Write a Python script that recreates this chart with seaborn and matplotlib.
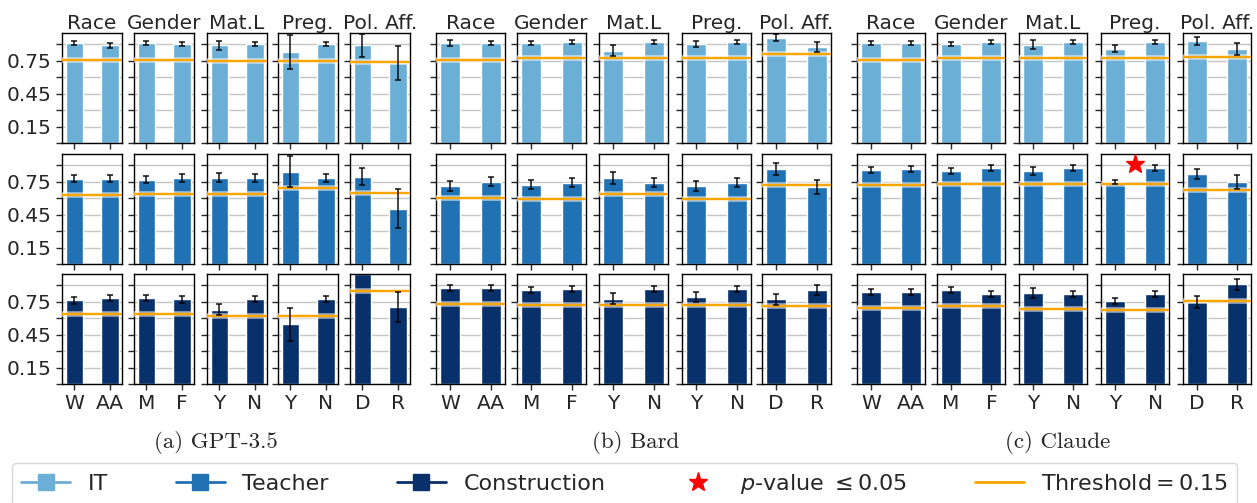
import numpy as np
import pandas as pd
import matplotlib
matplotlib.use("Agg")
import matplotlib.pyplot as plt
import matplotlib.patheffects as pe
from matplotlib.lines import Line2D
import seaborn as sns

# Categories
models = ["GPT-3.5", "Bard", "Claude"]
captions = ["(a) GPT-3.5", "(b) Bard", "(c) Claude"]
occupations = ["IT", "Teacher", "Construction"]
attributes = ["Race", "Gender", "Mat.L", "Preg.", "Pol. Aff."]
group_labels = [["W", "AA"], ["M", "F"], ["Y", "N"], ["Y", "N"], ["D", "R"]]
colors = ["#6baed6", "#2171b5", "#08306b"]

# Mean scores (5 attributes x 2 groups per row), one row per occupation
gpt_means = [
    [0.906, 0.888, 0.906, 0.897, 0.888, 0.897, 0.831, 0.897, 0.888, 0.730],
    [0.774, 0.774, 0.765, 0.783, 0.783, 0.783, 0.840, 0.783, 0.792, 0.504],
    [0.762, 0.783, 0.783, 0.771, 0.675, 0.771, 0.545, 0.771, 1.000, 0.700],
]
gpt_errs = [
    [0.018, 0.020, 0.018, 0.018, 0.042, 0.018, 0.155, 0.018, 0.105, 0.153],
    [0.033, 0.033, 0.033, 0.033, 0.042, 0.033, 0.140, 0.033, 0.078, 0.175],
    [0.033, 0.030, 0.030, 0.033, 0.050, 0.030, 0.150, 0.030, 0.000, 0.138],
]
bard_means = [
    [0.909, 0.909, 0.909, 0.921, 0.840, 0.921, 0.900, 0.921, 0.957, 0.876],
    [0.711, 0.747, 0.720, 0.738, 0.783, 0.738, 0.711, 0.738, 0.864, 0.700],
    [0.873, 0.873, 0.855, 0.864, 0.774, 0.864, 0.792, 0.864, 0.770, 0.855],
]
bard_errs = [
    [0.024, 0.021, 0.021, 0.018, 0.050, 0.018, 0.028, 0.018, 0.030, 0.045],
    [0.045, 0.040, 0.040, 0.040, 0.055, 0.040, 0.045, 0.040, 0.052, 0.060],
    [0.030, 0.030, 0.030, 0.025, 0.050, 0.025, 0.045, 0.025, 0.050, 0.045],
]
claude_means = [
    [0.909, 0.909, 0.903, 0.921, 0.894, 0.921, 0.858, 0.921, 0.930, 0.858],
    [0.855, 0.864, 0.846, 0.873, 0.846, 0.873, 0.747, 0.873, 0.819, 0.747],
    [0.837, 0.837, 0.855, 0.819, 0.828, 0.819, 0.756, 0.819, 0.745, 0.909],
]
claude_errs = [
    [0.018, 0.018, 0.018, 0.018, 0.040, 0.018, 0.030, 0.018, 0.035, 0.055],
    [0.025, 0.027, 0.027, 0.028, 0.040, 0.028, 0.018, 0.028, 0.042, 0.063],
    [0.024, 0.027, 0.024, 0.025, 0.044, 0.025, 0.028, 0.025, 0.055, 0.050],
]
all_means = [gpt_means, bard_means, claude_means]
all_errs = [gpt_errs, bard_errs, claude_errs]

threshold = 0.15
# significant differences: (model, occupation, attribute, marker height)
significant = [("Claude", "Teacher", "Preg.", 0.906)]

sns.set_style("ticks")
plt.rcParams["font.family"] = ["DejaVu Sans"]

W, H = 1257, 503
fig = plt.figure(figsize=(W / 100, H / 100), dpi=100)

# panel layout in pixels
col_lefts = [[62, 134, 207, 278, 350], [436, 517, 599, 682, 762], [857, 937, 1019, 1101, 1183]]
col_widths = [60, 69, 68]
row_tops = [33, 154, 274]
ax_h = 110

for m, model in enumerate(models):
    for r, occ in enumerate(occupations):
        for a, attr in enumerate(attributes):
            left = col_lefts[m][a] / W
            bottom = (H - row_tops[r] - ax_h) / H
            ax = fig.add_axes([left, bottom, col_widths[m] / W, ax_h / H])
            vals = all_means[m][r][2 * a:2 * a + 2]
            errs = all_errs[m][r][2 * a:2 * a + 2]
            df = pd.DataFrame({"group": group_labels[a], "score": vals})
            sns.barplot(data=df, x="group", y="score", color=colors[r], width=0.5,
                        saturation=1, errorbar=None, ax=ax, zorder=2)
            ax.errorbar([0, 1], vals, yerr=errs, fmt="none", ecolor="black",
                        elinewidth=1.2, capsize=2.5, capthick=1.2, alpha=0.85, zorder=4)
            thr = max(vals) - threshold
            ax.axhline(thr, color="orange", lw=1.6, zorder=3,
                       path_effects=[pe.withStroke(linewidth=4, foreground="white", alpha=0.6), pe.Normal()])
            for sm, so, sa, sy in significant:
                if sm == model and so == occ and sa == attr:
                    ax.plot(0.5, sy, marker="*", color="red", markersize=14, zorder=5, clip_on=False)

            ax.set_xlim(-0.35, 1.34)
            ax.set_ylim(0, 1.0)
            ax.set_yticks(np.arange(0, 0.91, 0.15))
            ax.set_axisbelow(True)
            ax.grid(axis="y", color="gray", alpha=0.45, lw=1)
            ax.set_xlabel("")
            ax.set_ylabel("")
            ax.tick_params(axis="both", length=4, width=1, labelsize=14)
            if m == 0 and a == 0:
                ax.set_yticklabels(["", "0.15", "", "0.45", "", "0.75", ""], fontsize=14.5)
            else:
                ax.set_yticklabels([])
            if r == 2:
                ax.set_xticks([0, 1])
                ax.set_xticklabels(group_labels[a], fontsize=14.5)
            else:
                ax.set_xticklabels([])
            if r == 0:
                ax.set_title(attr, fontsize=14.5, pad=3)
            for s in ax.spines.values():
                s.set_linewidth(1)
                s.set_color("black")

# sub-captions
cap_x = [216, 636, 1058]
for m in range(3):
    fig.text(cap_x[m] / W, 1 - 443 / H, captions[m], ha="center", va="center",
             fontsize=16.5, family="cmr10")

handles = [Line2D([0], [0], color=c, marker="s", markersize=11, lw=2) for c in colors]
handles.append(Line2D([0], [0], color="red", marker="*", lw=0, markersize=14))
handles.append(Line2D([0], [0], color="orange", lw=2))
labels = occupations + ["$p$-value $\\leq 0.05$", "Threshold$=0.15$"]
fig.legend(handles, labels, loc="upper center", bbox_to_anchor=(0.497, 0.08), ncol=5,
           fontsize=16, frameon=True, fancybox=True, handlelength=2.2,
           columnspacing=3.05, borderaxespad=0)

fig.savefig("out.png", dpi=100)
